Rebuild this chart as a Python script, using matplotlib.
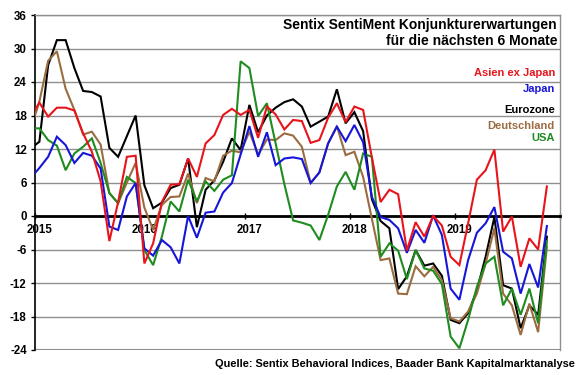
import matplotlib
matplotlib.use("Agg")
import matplotlib.pyplot as plt
import numpy as np

# Monthly values, Dec 2014 .. Nov 2019
months = [f"{y}-{m:02d}" for y, m in [(2014, 12)] + [(yy, mm) for yy in range(2015, 2020) for mm in range(1, 13)]][:60]

asien = [17.7, 20.3, 17.8, 19.4, 19.4, 18.9, 14.8, 11.5, 6.2, -4.5, 2.5, 10.6, 10.8,
         -8.5, -4.9, 2.5, 5.6, 5.7, 10.3, 7.0, 13.0, 14.5, 18.1, 19.2, 18.1,
         19.0, 14.0, 19.6, 18.2, 15.5, 17.2, 17.0, 13.1, 13.6, 17.6, 20.2, 16.8,
         19.6, 19.0, 10.5, 2.5, 4.7, 3.9, -6.2, -1.1, -3.7, 0.0, -1.7, -7.3,
         -8.8, -1.3, 6.5, 8.2, 11.9, -2.8, -0.1, -9.1, -4.0, -6.0, 5.3]
japan = [6.8, 8.6, 10.6, 14.2, 12.7, 9.5, 11.3, 10.8, 8.5, -1.9, -2.5, 3.5, 5.9,
         -5.8, -7.1, -4.3, -5.6, -8.5, 0.0, -3.9, 0.6, 0.8, 4.2, 5.9, 11.0,
         16.1, 10.6, 15.0, 9.1, 10.3, 10.5, 10.2, 5.9, 7.8, 13.0, 16.0, 13.4,
         16.3, 13.2, 3.4, -0.2, -0.7, -2.2, -6.6, -2.5, -4.8, 0.1, -3.4, -13.0,
         -15.0, -7.9, -3.0, -1.3, 1.6, -6.4, -7.6, -13.9, -8.6, -12.8, -1.8]
eurozone = [12.1, 13.3, 27.0, 31.5, 31.5, 26.5, 22.4, 22.2, 21.4, 12.2, 10.6, 14.3, 18.0,
            5.5, 1.4, 2.4, 5.0, 5.6, 10.3, -2.0, 4.7, 6.4, 9.7, 13.9, 11.8,
            19.9, 15.0, 18.0, 19.4, 20.4, 20.9, 19.6, 16.0, 16.9, 17.8, 22.7, 16.6,
            18.6, 15.2, 3.0, -0.9, -2.2, -13.1, -10.8, -6.1, -8.9, -8.5, -10.7, -18.6,
            -19.2, -17.4, -13.3, -7.3, -0.2, -12.4, -13.0, -20.1, -16.0, -17.7, -3.7]
deutschland = [15.5, 20.5, 27.8, 29.5, 22.8, 19.0, 14.6, 15.1, 12.8, 4.1, 2.3, 6.0, 9.5,
               1.5, -2.5, 2.0, 3.4, 3.5, 7.6, 2.3, 6.8, 6.2, 10.8, 11.7, 11.4,
               15.1, 11.0, 13.7, 13.6, 14.8, 14.4, 12.4, 5.9, 7.8, 13.0, 16.1, 10.9,
               11.5, 7.0, -0.5, -7.9, -7.6, -13.9, -14.0, -9.0, -10.8, -9.1, -11.5, -18.3,
               -18.9, -17.1, -13.9, -8.5, -2.2, -13.9, -16.0, -21.3, -15.7, -20.8, -5.5]
usa = [15.7, 15.7, 13.6, 12.6, 8.2, 11.2, 12.4, 13.9, 9.5, 4.1, 2.3, 7.0, 5.9,
       -6.1, -8.8, -3.7, 2.6, 0.8, 6.5, 2.6, 6.2, 4.5, 6.5, 7.3, 27.7,
       26.5, 17.9, 20.2, 13.0, 5.7, -0.8, -1.2, -1.7, -4.3, 0.2, 5.3, 7.9,
       4.7, 11.2, 10.6, -7.3, -4.9, -6.2, -11.3, -6.1, -9.4, -9.8, -12.2, -21.6,
       -23.7, -18.6, -12.7, -8.5, -7.3, -16.0, -13.0, -17.7, -13.0, -19.2, -4.5]

series_names = ["Eurozone", "Deutschland", "USA", "Japan", "Asien ex Japan"]
series_data = [eurozone, deutschland, usa, japan, asien]
colors = {"Asien ex Japan": "#E8141C", "Japan": "#1616D8", "Eurozone": "#000000",
          "Deutschland": "#9A6C40", "USA": "#1E8C1E"}
year_labels = ["2015", "2016", "2017", "2018", "2019"]
y_ticks = [-24, -18, -12, -6, 0, 6, 12, 18, 24, 30, 36]

title = "Sentix SentiMent Konjunkturerwartungen\nfür die nächsten 6 Monate"
source = "Quelle: Sentix Behavioral Indices, Baader Bank Kapitalmarktanalyse"

plt.rcParams['font.family'] = ['Liberation Sans', 'DejaVu Sans']

fig = plt.figure(figsize=(5.8, 3.75), dpi=100)
ax = fig.add_axes([35/580, 25/375, 525/580, 335/375])

x = np.arange(len(months)) - 1  # Jan 2015 -> 0
for name, vals in zip(series_names, series_data):
    ax.plot(x, vals, color=colors[name], lw=1.5, solid_joinstyle='miter', zorder=3)

ax.set_xlim(-0.5, 59.5)
ax.set_ylim(-24, 36)
ax.set_yticks(y_ticks)
ax.set_yticklabels([str(t) for t in y_ticks], fontsize=8.3, fontweight='bold')
ax.yaxis.grid(True, color='#8f8f8f', lw=1)
ax.set_axisbelow(True)

ax.spines['bottom'].set_position(('data', 0))
ax.spines['bottom'].set_linewidth(2)
ax.spines['bottom'].set_zorder(2.5)
ax.spines['left'].set_linewidth(1.2)
for s in ['top', 'right']:
    ax.spines[s].set_color('#8f8f8f')
    ax.spines[s].set_linewidth(1)
ax.axhline(-24, color='#8f8f8f', lw=1.5, zorder=1)

ax.tick_params(axis='y', direction='out', length=3, width=1, pad=3, colors='black')
ax.set_xticks([12 * i for i in range(len(year_labels))])
ax.set_xticklabels(year_labels, fontsize=8.3, fontweight='bold')
ax.tick_params(axis='x', which='major', length=0, pad=6)
ax.set_xticks([-0.5 + 12 * i for i in range(6)], minor=True)
ax.tick_params(axis='x', which='minor', direction='inout', length=5, width=1)

fig.text(557/580, 1 - 18/375, title, ha='right', va='top', fontsize=10,
         fontweight='bold', linespacing=1.2)

legend_y = {"Asien ex Japan": 73, "Japan": 89, "Eurozone": 110, "Deutschland": 126, "USA": 138}
for name, yy in legend_y.items():
    fig.text(555/580, 1 - yy/375, name, ha='right', va='center', fontsize=8,
             fontweight='bold', color=colors[name])

fig.text(575/580, 1 - 364/375, source, ha='right', va='center', fontsize=7.95,
         fontweight='bold')

fig.savefig("out.png", dpi=100)
